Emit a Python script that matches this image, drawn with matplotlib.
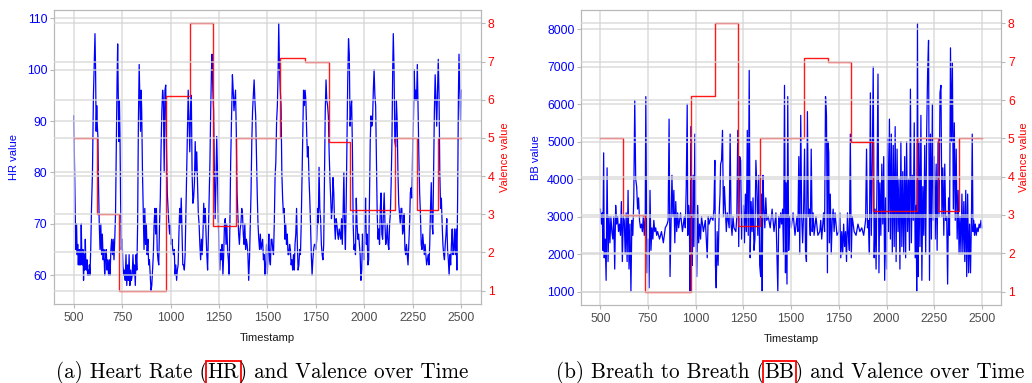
import matplotlib
matplotlib.use("Agg")
import matplotlib.pyplot as plt
import numpy as np

# ---------------- data ----------------
hr_pairs = [
    (500, 91), (503, 85), (507, 75), (511, 65), (515, 70), (518, 64), (521, 66), (524, 62), (527, 65), (530, 62),
    (533, 65), (536, 62), (539, 70), (542, 64), (545, 62), (548, 65), (551, 59), (554, 64), (557, 61), (560, 67),
    (563, 62), (566, 61), (569, 63), (572, 60), (575, 61), (578, 60), (581, 62), (584, 60), (588, 65), (592, 73),
    (597, 80), (602, 95), (607, 103), (610, 107), (613, 100), (616, 88), (619, 93), (622, 89), (625, 87), (628, 78),
    (632, 70), (636, 65), (640, 70), (644, 64), (648, 68), (652, 63), (656, 65), (660, 60), (664, 63), (668, 65),
    (672, 61), (676, 63), (680, 60), (684, 63), (688, 60), (692, 65), (696, 67), (700, 64), (704, 67), (708, 63),
    (712, 67), (716, 72), (720, 85), (724, 98), (727, 105), (730, 96), (733, 86), (736, 94), (739, 87), (742, 75),
    (746, 65), (750, 67), (754, 62), (758, 60), (762, 61), (766, 59), (770, 64), (774, 58), (778, 62), (782, 59),
    (786, 64), (790, 58), (794, 61), (798, 59), (802, 60), (806, 64), (810, 60), (814, 62), (818, 58), (822, 64),
    (826, 61), (830, 70), (834, 90), (838, 101), (842, 94), (845, 88), (848, 96), (851, 92), (855, 80), (859, 73),
    (863, 65), (867, 73), (871, 66), (875, 70), (879, 64), (883, 67), (887, 62), (891, 63), (895, 60), (899, 57),
    (903, 58), (907, 61), (911, 64), (915, 70), (919, 73), (923, 68), (927, 73), (931, 65), (935, 63), (939, 62),
    (943, 70), (947, 75), (951, 85), (955, 92), (959, 96), (963, 94), (967, 80), (971, 96), (975, 97), (979, 85),
    (983, 76), (987, 73), (991, 70), (995, 68), (999, 70), (1003, 66), (1007, 67), (1011, 65), (1015, 64), (1019, 65),
    (1023, 60), (1027, 62), (1031, 59), (1035, 61), (1039, 62), (1043, 68), (1047, 73), (1051, 70), (1055, 75), (1059, 68),
    (1063, 62), (1067, 62), (1071, 61), (1075, 64), (1079, 72), (1083, 80), (1087, 88), (1091, 96), (1095, 90), (1099, 84),
    (1103, 92), (1107, 95), (1111, 80), (1115, 74), (1119, 75), (1123, 78), (1127, 86), (1131, 80), (1135, 84), (1139, 78),
    (1143, 72), (1147, 70), (1151, 66), (1155, 63), (1159, 67), (1163, 64), (1167, 68), (1171, 74), (1175, 70), (1179, 73),
    (1183, 68), (1187, 64), (1191, 61), (1195, 68), (1199, 75), (1203, 82), (1207, 92), (1211, 100), (1214, 103), (1218, 96),
    (1222, 92), (1226, 80), (1230, 71), (1234, 78), (1238, 87), (1242, 80), (1246, 71), (1250, 65), (1254, 61), (1258, 65),
    (1262, 63), (1266, 66), (1270, 60), (1274, 64), (1278, 70), (1282, 71), (1286, 66), (1290, 70), (1294, 65), (1298, 63),
    (1302, 60), (1306, 70), (1310, 82), (1315, 92), (1319, 99), (1323, 96), (1327, 92), (1331, 94), (1335, 96), (1339, 88),
    (1343, 76), (1347, 72), (1351, 68), (1355, 66), (1359, 69), (1363, 70), (1367, 73), (1371, 72), (1375, 68), (1379, 66),
    (1383, 70), (1387, 65), (1391, 67), (1395, 66), (1399, 64), (1403, 59), (1407, 63), (1411, 70), (1415, 76), (1419, 86),
    (1423, 92), (1427, 95), (1431, 98), (1435, 94), (1439, 91), (1443, 83), (1447, 76), (1451, 70), (1455, 67), (1459, 65),
    (1463, 68), (1467, 65), (1471, 66), (1475, 67), (1479, 63), (1483, 64), (1487, 60), (1491, 62), (1495, 66), (1499, 60),
    (1503, 65), (1507, 68), (1511, 63), (1515, 62), (1519, 67), (1523, 67), (1527, 65), (1531, 64), (1535, 70), (1539, 79),
    (1543, 82), (1547, 90), (1551, 93), (1555, 100), (1558, 109), (1562, 100), (1566, 96), (1570, 93), (1574, 80), (1578, 75),
    (1582, 72), (1586, 73), (1590, 67), (1594, 70), (1598, 66), (1602, 68), (1606, 64), (1610, 64), (1614, 66), (1618, 65),
    (1622, 62), (1626, 63), (1630, 61), (1634, 64), (1638, 61), (1642, 66), (1646, 68), (1650, 73), (1654, 66), (1658, 61),
    (1662, 62), (1666, 65), (1670, 64), (1674, 70), (1678, 79), (1682, 87), (1686, 96), (1690, 93), (1694, 96), (1698, 94),
    (1702, 88), (1706, 83), (1710, 85), (1714, 79), (1718, 75), (1722, 70), (1726, 64), (1730, 60), (1734, 63), (1738, 65),
    (1742, 66), (1746, 66), (1750, 65), (1754, 67), (1758, 73), (1762, 70), (1766, 81), (1770, 73), (1774, 71), (1778, 66),
    (1782, 64), (1786, 63), (1790, 66), (1794, 80), (1798, 92), (1802, 98), (1806, 94), (1810, 93), (1814, 91), (1818, 84),
    (1822, 79), (1826, 75), (1830, 71), (1834, 73), (1838, 79), (1842, 76), (1846, 70), (1850, 67), (1854, 71), (1858, 70),
    (1862, 68), (1866, 67), (1870, 69), (1874, 68), (1878, 67), (1882, 71), (1886, 66), (1890, 72), (1894, 80), (1898, 70),
    (1902, 65), (1906, 74), (1910, 86), (1914, 98), (1918, 106), (1922, 103), (1926, 89), (1930, 92), (1934, 94), (1938, 85),
    (1942, 70), (1946, 65), (1950, 66), (1954, 64), (1958, 75), (1962, 70), (1966, 67), (1970, 68), (1974, 66), (1978, 64),
    (1982, 59), (1986, 61), (1990, 68), (1994, 65), (1998, 63), (2002, 70), (2006, 75), (2010, 66), (2014, 68), (2018, 62),
    (2022, 63), (2026, 75), (2030, 86), (2034, 91), (2038, 89), (2042, 90), (2046, 96), (2050, 100), (2054, 95), (2058, 93),
    (2062, 82), (2066, 72), (2070, 67), (2074, 69), (2078, 66), (2082, 73), (2086, 76), (2090, 68), (2094, 67), (2098, 72),
    (2102, 76), (2106, 70), (2110, 66), (2114, 67), (2118, 70), (2122, 66), (2126, 65), (2130, 70), (2134, 72), (2138, 78),
    (2142, 86), (2146, 100), (2149, 107), (2153, 100), (2157, 86), (2161, 85), (2165, 94), (2169, 90), (2173, 80), (2177, 74),
    (2181, 72), (2185, 70), (2189, 73), (2193, 73), (2197, 68), (2201, 69), (2205, 72), (2209, 65), (2213, 64), (2217, 66),
    (2221, 64), (2225, 62), (2229, 66), (2233, 70), (2237, 76), (2241, 77), (2245, 75), (2249, 85), (2253, 90), (2257, 100),
    (2261, 94), (2265, 96), (2269, 94), (2273, 101), (2277, 92), (2281, 83), (2285, 76), (2289, 72), (2293, 66), (2297, 65),
    (2301, 68), (2305, 66), (2309, 64), (2313, 66), (2317, 64), (2321, 62), (2325, 63), (2329, 64), (2333, 62), (2337, 66),
    (2341, 73), (2345, 78), (2349, 70), (2353, 68), (2357, 80), (2361, 92), (2365, 99), (2369, 94), (2373, 89), (2377, 96),
    (2381, 102), (2385, 95), (2389, 80), (2393, 73), (2397, 75), (2401, 70), (2405, 66), (2409, 64), (2413, 63), (2417, 66),
    (2421, 68), (2425, 71), (2429, 65), (2433, 63), (2437, 60), (2441, 64), (2445, 62), (2449, 66), (2453, 69), (2457, 64),
    (2461, 65), (2465, 69), (2469, 64), (2473, 69), (2477, 61), (2481, 75), (2485, 95), (2488, 103), (2492, 96), (2496, 90),
    (2500, 96),
]

bb_pairs = [
    (500, 3200), (505, 2800), (510, 3100), (513, 2100), (517, 4700), (520, 1900), (525, 2400), (530, 1300), (535, 4300), (540, 1800),
    (545, 3000), (550, 2300), (555, 3000), (560, 2600), (565, 2400), (570, 3000), (575, 1600), (580, 3300), (585, 2800), (590, 3000),
    (595, 2600), (600, 2800), (605, 2500), (610, 3400), (615, 1800), (620, 3000), (625, 2900), (630, 2000), (635, 3100), (640, 1800),
    (645, 3700), (650, 1600), (655, 2800), (660, 1000), (665, 2900), (670, 2500), (675, 3500), (680, 6100), (685, 4000), (690, 3800),
    (695, 3200), (700, 3500), (705, 2900), (710, 2700), (715, 2800), (720, 2600), (725, 3000), (730, 2500), (735, 3000), (738, 6200),
    (742, 2800), (745, 1500), (750, 2400), (755, 1100), (760, 3700), (765, 2100), (770, 2700), (775, 2400), (780, 2900), (785, 2600),
    (790, 2700), (795, 2500), (800, 2600), (810, 2400), (820, 2600), (830, 2300), (840, 2700), (850, 2800), (855, 2900), (860, 5600),
    (865, 1400), (870, 2700), (875, 4100), (880, 3000), (885, 3700), (890, 2300), (895, 3400), (900, 2600), (905, 3100), (910, 2700),
    (920, 3100), (930, 2600), (940, 3000), (945, 2700), (950, 3800), (955, 6000), (958, 2500), (962, 3300), (966, 3000), (970, 1000),
    (974, 5400), (978, 2400), (982, 1700), (986, 4100), (990, 2200), (995, 5200), (1000, 2500), (1005, 1400), (1010, 3300), (1015, 2300),
    (1020, 2800), (1025, 2400), (1030, 3000), (1040, 2600), (1050, 2900), (1060, 1900), (1065, 3000), (1070, 2800), (1080, 3000), (1090, 2900),
    (1095, 3200), (1100, 4500), (1103, 1700), (1107, 1100), (1112, 2600), (1117, 1700), (1122, 3000), (1127, 3600), (1130, 4400), (1135, 4500),
    (1140, 5300), (1145, 3000), (1150, 3800), (1155, 3200), (1160, 2600), (1165, 3100), (1170, 2900), (1175, 2700), (1180, 5200), (1185, 2800),
    (1190, 2500), (1195, 3000), (1200, 2700), (1210, 2600), (1215, 3000), (1220, 5300), (1225, 2200), (1230, 4600), (1235, 4500), (1240, 2400),
    (1245, 2800), (1250, 3300), (1255, 2300), (1260, 3600), (1265, 2600), (1270, 5300), (1275, 2500), (1280, 6900), (1285, 1900), (1290, 3400),
    (1295, 2600), (1300, 3500), (1305, 2100), (1310, 2400), (1315, 4500), (1320, 3800), (1325, 2500), (1330, 4100), (1335, 1700), (1340, 1400),
    (1345, 3600), (1348, 1000), (1352, 4100), (1357, 3200), (1362, 2700), (1367, 3500), (1372, 2900), (1380, 3000), (1390, 2700), (1400, 3200),
    (1410, 2600), (1420, 3100), (1430, 1000), (1435, 3000), (1440, 2700), (1445, 3100), (1450, 2800), (1455, 3200), (1460, 2000), (1465, 6500),
    (1470, 1500), (1473, 3900), (1478, 1200), (1482, 6200), (1487, 2100), (1492, 3000), (1500, 2700), (1510, 3100), (1520, 2500), (1530, 3000),
    (1535, 2600), (1540, 4600), (1545, 2000), (1550, 5700), (1555, 3000), (1560, 2300), (1565, 3100), (1570, 4800), (1575, 2100), (1580, 1800),
    (1585, 5800), (1590, 3000), (1595, 3200), (1600, 2500), (1605, 4800), (1610, 2600), (1615, 3100), (1620, 2500), (1630, 3000), (1640, 2500),
    (1650, 2600), (1655, 2900), (1660, 2400), (1670, 3100), (1675, 2600), (1680, 6200), (1685, 5700), (1690, 1500), (1693, 5000), (1697, 4700),
    (1700, 2300), (1705, 3600), (1710, 2000), (1715, 2900), (1720, 3200), (1725, 2600), (1730, 3100), (1740, 2500), (1750, 2600), (1755, 3100),
    (1760, 1900), (1765, 2600), (1770, 2000), (1775, 2800), (1780, 2200), (1785, 2600), (1790, 1800), (1795, 3100), (1800, 2500), (1805, 2100),
    (1810, 5200), (1815, 1900), (1820, 3000), (1830, 2600), (1840, 2500), (1850, 2800), (1860, 2600), (1870, 2700), (1880, 2500), (1890, 2900),
    (1895, 4800), (1900, 2700), (1905, 2900), (1910, 2000), (1915, 6300), (1920, 2500), (1925, 4400), (1930, 7000), (1935, 1900), (1940, 3200),
    (1945, 1600), (1950, 4000), (1955, 6800), (1960, 1500), (1965, 3900), (1970, 2500), (1975, 4400), (1980, 2800), (1985, 4600), (1990, 1300),
    (1995, 3500), (2000, 1600), (2005, 5100), (2010, 2600), (2015, 5600), (2020, 2400), (2025, 5200), (2030, 2000), (2035, 4900), (2040, 2200),
    (2045, 5400), (2050, 1800), (2055, 4800), (2060, 2600), (2065, 4000), (2070, 1600), (2075, 5000), (2080, 2200), (2085, 4200), (2090, 2000),
    (2095, 4600), (2100, 1900), (2105, 5000), (2110, 2600), (2115, 4000), (2120, 2100), (2125, 6400), (2130, 2300), (2135, 4100), (2140, 2900),
    (2145, 5500), (2150, 1900), (2155, 3300), (2158, 1000), (2162, 8150), (2166, 1400), (2170, 5000), (2175, 2200), (2180, 5700), (2185, 1300),
    (2190, 3800), (2195, 2500), (2200, 4900), (2205, 2000), (2210, 5200), (2215, 6800), (2220, 7700), (2225, 1300), (2230, 5200), (2235, 2400),
    (2240, 6000), (2245, 2900), (2250, 4600), (2255, 2400), (2260, 4400), (2265, 2100), (2270, 5000), (2275, 3000), (2280, 6300), (2285, 6500),
    (2290, 3000), (2295, 4300), (2300, 2500), (2305, 4400), (2310, 2900), (2315, 3000), (2320, 1200), (2325, 3500), (2330, 2500), (2335, 7500),
    (2340, 5000), (2345, 7100), (2350, 3200), (2355, 5500), (2360, 2900), (2365, 4800), (2370, 2400), (2375, 3700), (2380, 2000), (2385, 3000),
    (2390, 2000), (2395, 3600), (2400, 2000), (2405, 3400), (2410, 1800), (2415, 3700), (2420, 1400), (2425, 3600), (2430, 1500), (2435, 2800),
    (2440, 1500), (2445, 3000), (2449, 5200), (2453, 2600), (2457, 2900), (2461, 2500), (2465, 2800), (2470, 2500), (2475, 2700), (2480, 2600),
    (2485, 2800), (2490, 2700), (2495, 2900), (2500, 2700),
]

hr_time = [p[0] for p in hr_pairs]
hr_value = [p[1] for p in hr_pairs]
bb_time = [p[0] for p in bb_pairs]
bb_value = [p[1] for p in bb_pairs]

valence_start = [500, 620, 735, 975, 1100, 1220, 1335, 1567, 1694, 1815, 1928, 2160, 2270, 2381]
valence_value = [5, 3, 1, 6.1, 8, 2.7, 5, 7.1, 7.0, 4.9, 3.1, 5, 3.1, 5]
valence_end = 2500

x_ticks = [500, 750, 1000, 1250, 1500, 1750, 2000, 2250, 2500]
hr_ticks = [60, 70, 80, 90, 100, 110]
bb_ticks = [1000, 2000, 3000, 4000, 5000, 6000, 7000, 8000]
valence_ticks = [1, 2, 3, 4, 5, 6, 7, 8]

# ---------------- styling ----------------
SANS = ["Liberation Sans", "DejaVu Sans"]
GRID = "#d6d6d6"
BORDER = "#b8b8b8"
BLUE = "#0000ff"
RED = "#ff0000"

fig = plt.figure(figsize=(10.32, 3.83), dpi=100)


def expand(vals):
    lo, hi = min(vals), max(vals)
    pad = (hi - lo) * 0.05
    return lo - pad, hi + pad


def panel(rect, y_t, y_v, y_ticks, y_label, ylab_x, vlab_x):
    ax = fig.add_axes(rect)
    ax.plot(y_t, y_v, color=BLUE, lw=0.9, zorder=2)
    ax.set_xlim(400, 2600)
    ax.set_ylim(*expand(y_v))
    ax.set_xticks(x_ticks)
    ax.set_yticks(y_ticks)
    ax.set_axisbelow(False)
    ax.grid(True, color=GRID, lw=1.1, alpha=0.85)
    ax.tick_params(axis="x", colors=BORDER, labelcolor="#4d4d4d", length=3, width=0.8, pad=2.5)
    ax.tick_params(axis="y", colors=BORDER, labelcolor=BLUE, length=3, width=0.8, pad=2)
    for lab in ax.get_xticklabels() + ax.get_yticklabels():
        lab.set_family(SANS)
        lab.set_fontsize(8.8)
    ax.set_xlabel("Timestamp", family=SANS, fontsize=8.1, color="#1a1a1a")
    ax.xaxis.set_label_coords(0.5, -0.098)
    ax.set_ylabel(y_label, family=SANS, fontsize=8.0, color=BLUE)
    ax.yaxis.set_label_coords(ylab_x, 0.5)

    axt = ax.twinx()
    vt = valence_start + [valence_end]
    vv = valence_value + [valence_value[-1]]
    axt.step(vt, vv, where="post", color=RED, lw=1.0, alpha=0.9, zorder=2)
    axt.set_ylim(*expand(valence_value))
    axt.set_yticks(valence_ticks)
    axt.set_axisbelow(False)
    axt.grid(True, axis="y", color=GRID, lw=1.1, alpha=0.85)
    axt.tick_params(axis="y", colors=BORDER, labelcolor=RED, length=3, width=0.8, pad=2)
    for lab in axt.get_yticklabels():
        lab.set_family(SANS)
        lab.set_fontsize(8.8)
    axt.set_ylabel("Valence value", family=SANS, fontsize=8.0, color=RED, rotation=90)
    axt.yaxis.set_label_coords(vlab_x, 0.5)
    for a in (ax, axt):
        for s in a.spines.values():
            s.set_color(BORDER)
            s.set_linewidth(0.8)
    return ax


panel([0.0526, 0.2063, 0.4132, 0.7676], hr_time, hr_value, hr_ticks, "HR value", -0.082, 1.046)
panel([0.5633, 0.2037, 0.4067, 0.7700], bb_time, bb_value, bb_ticks, "BB value", -0.097, 1.042)

# ---------------- captions with boxed acronym ----------------
renderer = fig.canvas.get_renderer()
CAP_FONT = dict(family=["cmr10", "DejaVu Serif"], fontsize=15.2, color="black")


def caption(xc_px, base_px, parts):
    texts = []
    widths = []
    for s, boxed in parts:
        t = fig.text(0, 0, s, ha="left", va="baseline", transform=None, **CAP_FONT)
        if boxed:
            t.set_bbox(dict(boxstyle="square,pad=0.08", fc="none", ec=RED, lw=1.3))
        texts.append(t)
        widths.append(t.get_window_extent(renderer).width)
    total = sum(widths)
    x = xc_px - total / 2
    for t, w in zip(texts, widths):
        t.set_position((x, base_px))
        x += w


H = 383
caption(262, H - 378, [("(a) Heart Rate (", False), ("HR", True), (") and Valence over Time", False)])
caption(790, H - 378, [("(b) Breath to Breath (", False), ("BB", True), (") and Valence over Time", False)])

fig.savefig("out.png", dpi=100)
